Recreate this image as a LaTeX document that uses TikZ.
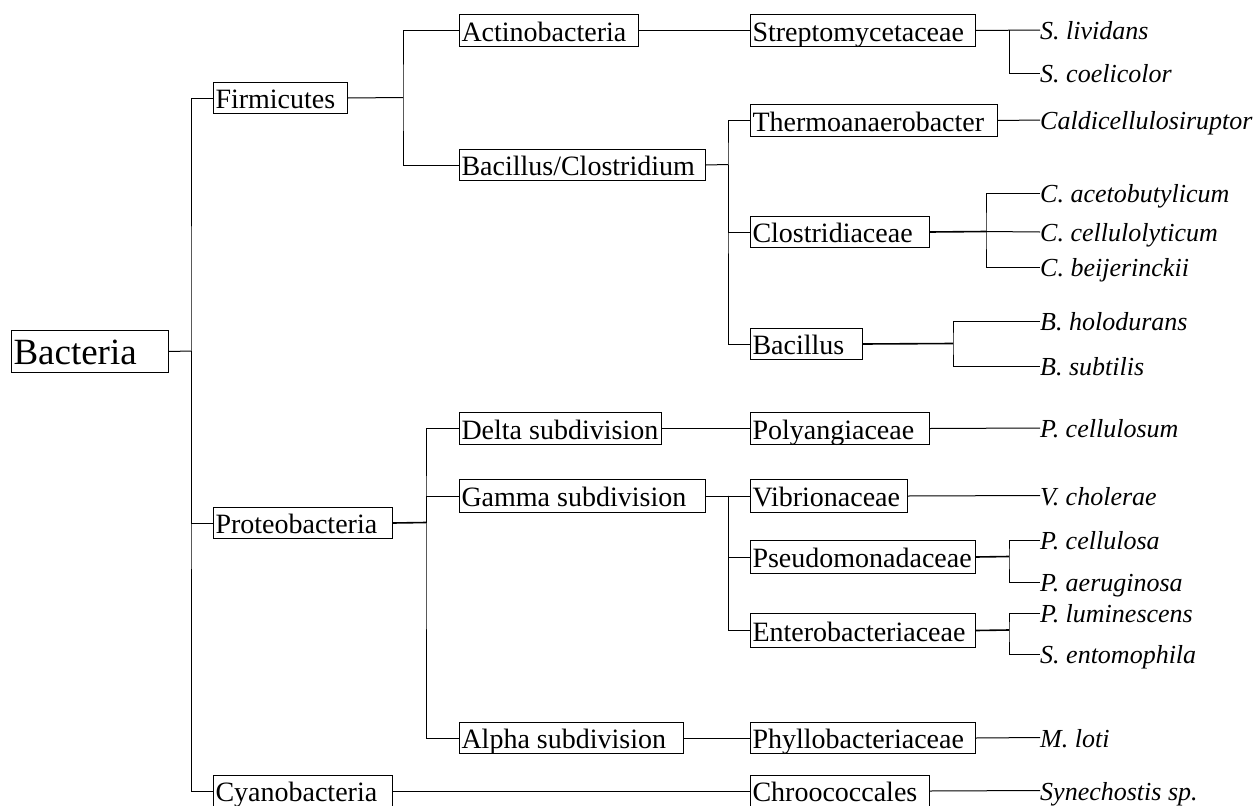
\documentclass[tikz,border=0pt]{standalone}
\usepackage{fontspec}
\setmainfont{Liberation Serif}
\tikzset{
  box/.style={draw, line width=1pt, inner xsep=2pt, inner ysep=0pt, anchor=north west,
    font=\fontsize{28}{30}\selectfont, text height=26pt, text depth=5pt},
  bigbox/.style={box, font=\fontsize{37}{40}\selectfont, text height=34pt, text depth=8pt},
  spc/.style={anchor=base west, inner sep=0pt, font=\fontsize{26}{28}\selectfont\itshape},
  ln/.style={line width=1pt},
  lnb/.style={line width=1.6pt},
}
\newcommand{\bx}[7][box]{%
  \pgfmathsetmacro\bxw{#5-#3}\pgfmathsetmacro\bxh{#6-#4}\pgfmathsetmacro\bxt{#5-#3-4}%
  \node[#1, minimum width=\bxw pt, minimum height=\bxh pt] (#2) at (#3,#4) {\makebox[\bxt pt][l]{#7}};}
\newcommand{\spe}[3]{\node[spc] (#1) at (1040,{#2+9.5}) {#3};}
\newcommand{\spt}[1]{([yshift=9.5pt]#1.base west)}
\begin{document}
\begin{tikzpicture}[x=1pt,y=-1pt]
\useasboundingbox (0,0) rectangle (1254,806);
% boxes
\bx[bigbox]{bact}{11}{330}{168}{372}{Bacteria}
\bx{firm}{213}{82}{347}{113}{Firmicutes}
\bx{prot}{213}{507}{392}{538}{Proteobacteria}
\bx{cyan}{213}{775}{392}{806}{Cyanobacteria}
\bx{actino}{459}{14}{638}{46}{Actinobacteria}
\bx{bacclos}{459}{149}{705}{180}{Bacillus/Clostridium}
\bx{delta}{459}{412}{661}{444}{Delta subdivision}
\bx{gamma}{459}{479}{705}{512}{Gamma subdivision}
\bx{alpha}{459}{722}{683}{753}{Alpha subdivision}
\bx{strep}{750}{14}{975}{46}{Streptomycetaceae}
\bx{thermo}{750}{104}{997}{136}{Thermoanaerobacter}
\bx{clost}{750}{216}{929}{247}{Clostridiaceae}
\bx{bacil}{750}{328}{862}{359}{Bacillus}
\bx{poly}{750}{412}{929}{444}{Polyangiaceae}
\bx{vibr}{750}{479}{907}{512}{Vibrionaceae}
\bx{pseudo}{750}{540}{975}{573}{Pseudomonadaceae}
\bx{entero}{750}{613}{975}{647}{Enterobacteriaceae}
\bx{phyllo}{750}{722}{975}{753}{Phyllobacteriaceae}
\bx{chroo}{750}{775}{929}{806}{Chroococcales}
% species
\spe{liv}{30}{S. lividans}
\spe{coel}{73}{S. coelicolor}
\spe{cald}{120}{Caldicellulosiruptor}
\spe{aceto}{193}{C. acetobutylicum}
\spe{cellu}{232}{C. cellulolyticum}
\spe{beij}{267}{C. beijerinckii}
\spe{holo}{321}{B. holodurans}
\spe{subt}{366}{B. subtilis}
\spe{pcell}{428}{P. cellulosum}
\spe{chol}{495.5}{V. cholerae}
\spe{pcsa}{540}{P. cellulosa}
\spe{aeru}{582}{P. aeruginosa}
\spe{lumi}{613}{P. luminescens}
\spe{ento}{654}{S. entomophila}
\spe{loti}{737.5}{M. loti}
\spe{syn}{790.5}{Synechostis sp.}
% junctions
\coordinate (J0) at (191,351);
\coordinate (J1) at (403,97.5);
\coordinate (J2) at (728,164.5);
\coordinate (J3) at (426,522.5);
\coordinate (J4) at (728,495.5);
\coordinate (Js) at (1009,30);
\coordinate (Jc) at (986,231.5);
\coordinate (Jb) at (953,343.5);
\coordinate (Jp) at (1009,556.5);
\coordinate (Je) at (1009,630);
% connectors
\draw[ln] (bact.east) -- (J0);
\draw[ln] (firm.west) -| (J0) |- (cyan.west);
\draw[ln] (J0) |- (prot.west);
\draw[ln] (firm.east) -- (J1);
\draw[ln] (actino.west) -| (J1) |- (bacclos.west);
\draw[ln] (actino.east) -- (strep.west);
\draw[ln] (strep.east) -- \spt{liv};
\draw[ln] (Js) |- \spt{coel};
\draw[ln] (bacclos.east) -- (J2);
\draw[ln] (thermo.west) -| (J2) |- (bacil.west);
\draw[ln] (J2) |- (clost.west);
\draw[ln] (thermo.east) -- \spt{cald};
\draw[lnb] (clost.east) -- (Jc);
\draw[ln] (Jc) -- \spt{cellu};
\draw[ln] \spt{aceto} -| (Jc) |- \spt{beij};
\draw[lnb] (bacil.east) -- (Jb);
\draw[ln] \spt{holo} -| (Jb) |- \spt{subt};
\draw[lnb] (prot.east) -- (J3);
\draw[ln] (delta.west) -| (J3) |- (alpha.west);
\draw[ln] (J3) |- (gamma.west);
\draw[ln] (delta.east) -- (poly.west);
\draw[ln] (poly.east) -- \spt{pcell};
\draw[ln] (gamma.east) -- (vibr.west);
\draw[ln] (J4) |- (entero.west);
\draw[ln] (J4) |- (pseudo.west);
\draw[ln] (vibr.east) -- \spt{chol};
\draw[lnb] (pseudo.east) -- (Jp);
\draw[ln] \spt{pcsa} -| (Jp) |- \spt{aeru};
\draw[lnb] (entero.east) -- (Je);
\draw[ln] \spt{lumi} -| (Je) |- \spt{ento};
\draw[ln] (alpha.east) -- (phyllo.west);
\draw[ln] (phyllo.east) -- \spt{loti};
\draw[ln] (cyan.east) -- (chroo.west);
\draw[ln] (chroo.east) -- \spt{syn};
\end{tikzpicture}
\end{document}
